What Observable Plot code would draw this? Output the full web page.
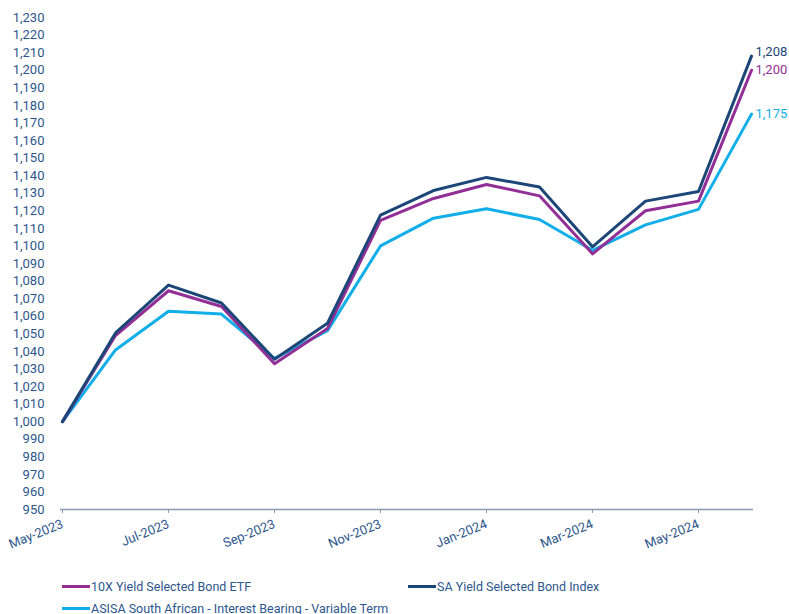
<!DOCTYPE html>
<html>
<head>
<meta charset="utf-8">
<script src="https://cdn.jsdelivr.net/npm/d3@7"></script>
<script src="https://cdn.jsdelivr.net/npm/@observablehq/plot@0.6"></script>
<style>
  body { margin: 0; background: #fff; font-family: Roboto, "Liberation Sans", sans-serif; }
  #chart { width: 789px; }
  .legend { position: relative; height: 54px; font-family: Roboto, sans-serif; font-size: 12.5px; color: #2d568c; }
  .item { position: absolute; display: flex; align-items: center; height: 16px; }
  .sw { width: 28px; height: 3px; margin-right: 1px; }
</style>
</head>
<body>
<div id="chart"></div>
<script>
const months = ["May-2023","Jun-2023","Jul-2023","Aug-2023","Sep-2023","Oct-2023","Nov-2023","Dec-2023","Jan-2024","Feb-2024","Mar-2024","Apr-2024","May-2024","Jun-2024"];
const tickMonths = ["May-2023","Jul-2023","Sep-2023","Nov-2023","Jan-2024","Mar-2024","May-2024"];
const seriesNames = ["10X Yield Selected Bond ETF","SA Yield Selected Bond Index","ASISA South African - Interest Bearing - Variable Term"];
const etf   = [1000, 1049, 1074.5, 1065.5, 1033, 1053, 1114.5, 1127, 1135, 1128.5, 1095.5, 1120, 1125.5, 1200];
const index = [1000, 1050.5, 1077.7, 1067.5, 1035.5, 1056, 1117.5, 1131.5, 1139, 1133.5, 1099.5, 1125.5, 1131, 1208];
const asisa = [1000, 1040.8, 1062.8, 1061.2, 1036, 1051.8, 1100, 1115.8, 1121.2, 1115, 1097.5, 1112, 1120.8, 1175];
const colors = ["#922f96", "#1d4678", "#12aee9"];
const yTicks = d3.range(950, 1231, 10);

const allSeries = [etf, index, asisa];
const data = [];
allSeries.forEach((vals, s) => vals.forEach((v, i) => data.push({series: seriesNames[s], month: months[i], value: v})));
const last = allSeries.map((vals, s) => ({series: seriesNames[s], month: months[months.length - 1], value: vals[vals.length - 1], dy: s === 1 ? -4 : 0}));

const fmt = d3.format(",");
const plot = Plot.plot({
  width: 789,
  height: 560,
  marginLeft: 60,
  marginRight: 36,
  marginTop: 17,
  marginBottom: 51,
  style: {fontFamily: "Roboto, sans-serif", fontSize: "13px", color: "#2d568c", background: "#fff"},
  x: {type: "point", domain: months, padding: 0},
  y: {domain: [950, 1230]},
  color: {domain: seriesNames, range: colors},
  marks: [
    Plot.axisY({ticks: yTicks, tickSize: 0, tickPadding: 16, tickFormat: fmt, fill: "#2d568c", fontSize: 13, label: null}),
    Plot.axisX({ticks: tickMonths, tickSize: 4, tickRotate: -22, tickPadding: 10, stroke: "#8a9bb2", fill: "#2d568c", fontSize: 13, label: null}),
    Plot.ruleY([950], {stroke: "#8a9bb2", strokeWidth: 1.5}),
    Plot.line(data.filter(d => d.series === seriesNames[2]), {x: "month", y: "value", stroke: "series", strokeWidth: 3}),
    Plot.line(data.filter(d => d.series === seriesNames[0]), {x: "month", y: "value", stroke: "series", strokeWidth: 3}),
    Plot.line(data.filter(d => d.series === seriesNames[1]), {x: "month", y: "value", stroke: "series", strokeWidth: 3}),
    Plot.text(last.filter(d => d.dy === 0), {x: "month", y: "value", text: d => fmt(d.value), fill: "series", dx: 4, textAnchor: "start", fontSize: 13}),
    Plot.text(last.filter(d => d.dy !== 0), {x: "month", y: "value", text: d => fmt(d.value), fill: "series", dx: 4, dy: -4, textAnchor: "start", fontSize: 13})
  ]
});
document.getElementById("chart").appendChild(plot);

const legend = document.createElement("div");
legend.className = "legend";
const pos = [[62, 26], [408, 26], [62, 48]];
seriesNames.forEach((name, i) => {
  const it = document.createElement("div");
  it.className = "item";
  it.style.left = pos[i][0] + "px";
  it.style.top = (pos[i][1] - 8) + "px";
  const sw = document.createElement("span");
  sw.className = "sw";
  sw.style.background = colors[i];
  const tx = document.createElement("span");
  tx.textContent = name;
  it.appendChild(sw); it.appendChild(tx);
  legend.appendChild(it);
});
document.getElementById("chart").appendChild(legend);
</script>
</body>
</html>
